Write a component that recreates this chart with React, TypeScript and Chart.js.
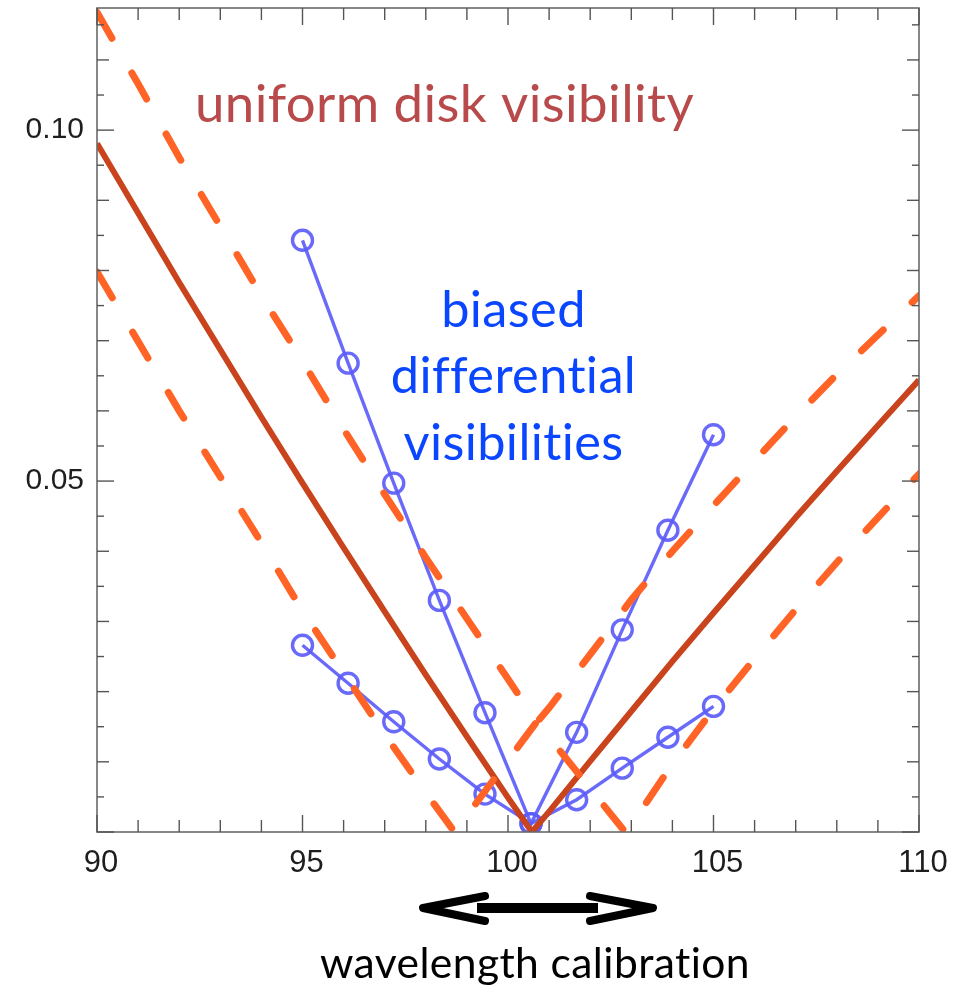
import React, { useEffect, useRef } from 'react';
import { Chart, registerables } from 'chart.js';

Chart.register(...registerables);

// ---- axis ranges and tick labels ----
const xRange = [90, 110];
const yRange = [0, 0.1174];
const xTickValues = [90, 95, 100, 105, 110];
const yTickValues = [0.05, 0.1];

// ---- uniform disk visibility model (solid) ----
const modelX = [90, 91, 92, 93, 94, 95, 96, 97, 98, 99, 100, 100.58, 101, 102, 103, 104, 105, 106, 107, 108, 109, 110];
const modelY = [0.0981, 0.0882, 0.0783, 0.0687, 0.0591, 0.0497, 0.0405, 0.0314, 0.0224, 0.0136, 0.0049, 0.0, 0.0029, 0.0101, 0.0172, 0.0243, 0.0312, 0.038, 0.0448, 0.0514, 0.0579, 0.0644];

// ---- upper error envelope (dashed) ----
const upperX = [90, 91, 92, 93, 94, 95, 96, 97, 98, 99, 100, 100.7, 101, 102, 103, 104, 105, 106, 107, 108, 109, 110];
const upperY = [0.1168, 0.1066, 0.0961, 0.0863, 0.0764, 0.0671, 0.0574, 0.0481, 0.0391, 0.0304, 0.0218, 0.0156, 0.0177, 0.0253, 0.0331, 0.04, 0.0465, 0.0529, 0.0592, 0.0652, 0.0708, 0.0764];

// ---- lower error envelope (dashed) ----
const lowerX = [90, 91, 92, 93, 94, 95, 96, 97, 98, 98.7, 100.7, 102.85, 103, 104, 105, 106, 107, 108, 109, 110];
const lowerY = [0.0798, 0.0699, 0.06, 0.0506, 0.0412, 0.0315, 0.0227, 0.0139, 0.0056, 0.0, 0.0157, 0.0, 0.001, 0.0097, 0.0175, 0.0247, 0.0317, 0.0384, 0.0448, 0.051];

// ---- biased differential visibilities ----
const biasX = [95, 96.11, 97.22, 98.33, 99.44, 100.56, 101.67, 102.78, 103.89, 105];
const steepY = [0.0843, 0.0668, 0.0497, 0.033, 0.017, 0.0012, 0.0142, 0.0288, 0.043, 0.0566];
const shallowY = [0.0266, 0.0212, 0.0157, 0.0104, 0.0054, 0.0012, 0.0046, 0.0091, 0.0135, 0.0179];

const zip = (xs: number[], ys: number[]) => xs.map((x, i) => ({ x, y: ys[i] }));

const TEXT_FONT = 'Lato, "Open Sans", sans-serif';

function drawFitted(ctx: CanvasRenderingContext2D, lines: string[], refIndex: number, refWidth: number, cx: number, baselines: number[], color: string) {
  const c = ctx as any;
  c.letterSpacing = '0.4px';
  ctx.font = `100px ${TEXT_FONT}`;
  const w = ctx.measureText(lines[refIndex]).width;
  const size = (100 * refWidth) / w;
  ctx.font = `${size}px ${TEXT_FONT}`;
  ctx.fillStyle = color;
  ctx.textAlign = 'center';
  ctx.textBaseline = 'alphabetic';
  lines.forEach((t, i) => ctx.fillText(t, cx, baselines[i]));
  c.letterSpacing = '0px';
}

const framePlugin = {
  id: 'frameTicks',
  afterDatasetsDraw(chart: any) {
    const { ctx, chartArea: a, scales } = chart;
    const x = scales.x;
    const y = scales.y;
    ctx.save();
    ctx.strokeStyle = '#6a6a6a';
    ctx.lineWidth = 1.6;
    ctx.strokeRect(a.left, a.top, a.right - a.left, a.bottom - a.top);
    ctx.strokeStyle = '#555';
    ctx.lineWidth = 1.4;
    const seg = (x1: number, y1: number, x2: number, y2: number) => {
      ctx.beginPath();
      ctx.moveTo(x1, y1);
      ctx.lineTo(x2, y2);
      ctx.stroke();
    };
    for (let v = xRange[0]; v <= xRange[1]; v += 1) {
      const px = x.getPixelForValue(v);
      const len = v % 5 === 0 ? 17 : 12;
      seg(px, a.bottom, px, a.bottom - len);
      seg(px, a.top, px, a.top + len);
    }
    for (let i = 0; i * 0.005 <= yRange[1] + 1e-9; i++) {
      const py = y.getPixelForValue(i * 0.005);
      const len = i % 10 === 0 ? 17 : i % 2 === 0 ? 12 : 7;
      seg(a.left, py, a.left + len, py);
      seg(a.right, py, a.right - len, py);
    }
    ctx.restore();
  },
  afterDraw(chart: any) {
    const { ctx } = chart;
    ctx.save();
    drawFitted(ctx, ['uniform disk visibility'], 0, 495, 444.5, [122], '#b84a4b');
    drawFitted(ctx, ['biased', 'differential', 'visibilities'], 1, 243, 513.5, [327, 393, 460], '#0a46ff');
    drawFitted(ctx, ['wavelength calibration'], 0, 425, 535, [978], '#000');
    // double arrow
    ctx.strokeStyle = '#000';
    ctx.lineWidth = 8;
    ctx.lineCap = 'round';
    ctx.lineJoin = 'round';
    ctx.beginPath();
    ctx.moveTo(485, 896);
    ctx.lineTo(423, 908);
    ctx.lineTo(485, 921);
    ctx.stroke();
    ctx.beginPath();
    ctx.moveTo(590, 896);
    ctx.lineTo(653, 908);
    ctx.lineTo(590, 921);
    ctx.stroke();
    ctx.fillStyle = '#000';
    ctx.fillRect(477, 903, 121, 10);
    ctx.restore();
  },
};

export default function App() {
  const ref = useRef<HTMLCanvasElement | null>(null);
  useEffect(() => {
    if (!ref.current) return;
    const dashed = {
      borderColor: '#ff6426',
      borderWidth: 7,
      borderDash: [30, 40],
      borderCapStyle: 'round',
      pointRadius: 0,
      showLine: true,
      tension: 0,
      clip: 0,
    };
    const blue = {
      borderColor: 'rgba(92,92,250,0.92)',
      borderWidth: 3.4,
      pointRadius: 10,
      pointBorderWidth: 3.4,
      pointBackgroundColor: 'rgba(0,0,0,0)',
      pointBorderColor: 'rgba(92,92,250,0.92)',
      showLine: true,
      tension: 0,
      clip: 0,
    };
    const chart = new Chart(ref.current, {
      type: 'scatter',
      data: {
        datasets: [
          { ...dashed, data: zip(upperX, upperY) } as any,
          { ...dashed, data: zip(lowerX, lowerY) } as any,
          {
            data: zip(modelX, modelY),
            borderColor: '#c9431c',
            borderWidth: 6,
            borderJoinStyle: 'round',
            pointRadius: 0,
            showLine: true,
            tension: 0,
            clip: 0,
          } as any,
          { ...blue, data: zip(biasX, steepY) } as any,
          { ...blue, data: zip(biasX, shallowY) } as any,
        ],
      },
      options: {
        animation: false,
        responsive: false,
        events: [],
        layout: { autoPadding: false, padding: { left: 0, top: 8, right: 48, bottom: 0 } },
        plugins: { legend: { display: false }, tooltip: { enabled: false } },
        scales: {
          x: {
            type: 'linear',
            min: xRange[0],
            max: xRange[1],
            grid: { display: false, drawTicks: false },
            border: { display: false },
            afterBuildTicks: (s: any) => {
              s.ticks = xTickValues.map((v) => ({ value: v }));
            },
            afterFit: (s: any) => {
              s.height = 160;
              s.paddingLeft = 0;
              s.paddingRight = 0;
            },
            ticks: {
              padding: 13,
              labelOffset: 4,
              maxRotation: 0,
              color: '#1e1e1e',
              font: { family: '"Liberation Sans", Arial, sans-serif', size: 31 },
              callback: (v: any) => String(v),
            },
          },
          y: {
            type: 'linear',
            min: yRange[0],
            max: yRange[1],
            grid: { display: false, drawTicks: false },
            border: { display: false },
            afterBuildTicks: (s: any) => {
              s.ticks = yTickValues.map((v) => ({ value: v }));
            },
            afterFit: (s: any) => {
              s.width = 97;
              s.paddingTop = 0;
              s.paddingBottom = 0;
            },
            ticks: {
              padding: 13,
              color: '#1e1e1e',
              font: { family: '"Liberation Sans", Arial, sans-serif', size: 30 },
              callback: (v: any) => Number(v).toFixed(2),
            },
          },
        },
      },
      plugins: [framePlugin],
    } as any);
    return () => chart.destroy();
  }, []);
  return (
    <div style={{ position: 'absolute', left: 0, top: 0, width: 967, height: 992, background: '#fff' }}>
      <canvas ref={ref} width={967} height={992} />
    </div>
  );
}
